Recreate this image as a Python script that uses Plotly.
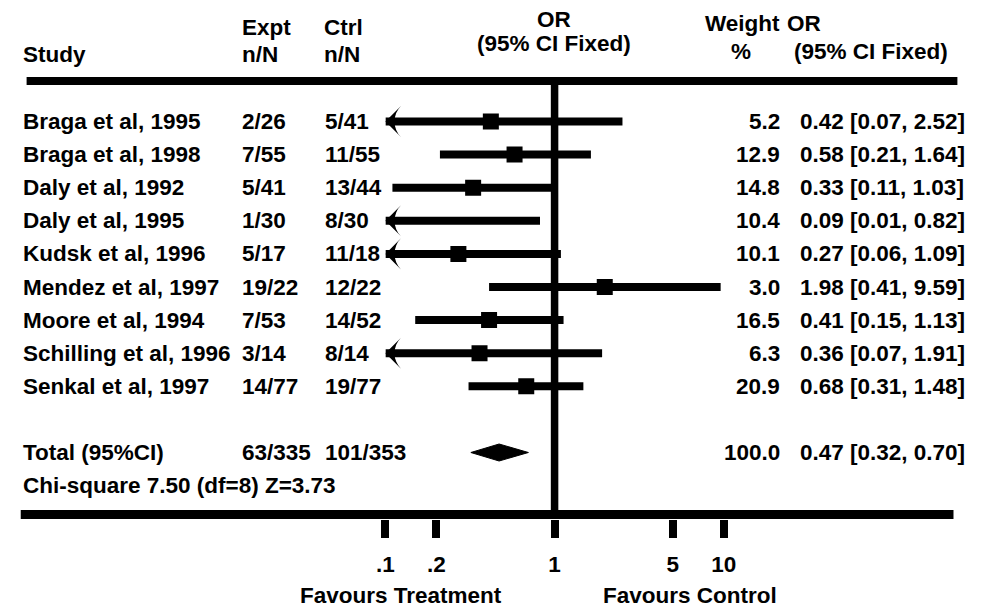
import plotly.graph_objects as go

# ---------------- data ----------------
studies = ["Braga et al, 1995", "Braga et al, 1998", "Daly et al, 1992", "Daly et al, 1995",
           "Kudsk et al, 1996", "Mendez et al, 1997", "Moore et al, 1994",
           "Schilling et al, 1996", "Senkal et al, 1997"]
expt_nN = ["2/26", "7/55", "5/41", "1/30", "5/17", "19/22", "7/53", "3/14", "14/77"]
ctrl_nN = ["5/41", "11/55", "13/44", "8/30", "11/18", "12/22", "14/52", "8/14", "19/77"]
weights = [5.2, 12.9, 14.8, 10.4, 10.1, 3.0, 16.5, 6.3, 20.9]
odds_ratio = [0.42, 0.58, 0.33, 0.09, 0.27, 1.98, 0.41, 0.36, 0.68]
ci_low = [0.07, 0.21, 0.11, 0.01, 0.06, 0.41, 0.15, 0.07, 0.31]
ci_high = [2.52, 1.64, 1.03, 0.82, 1.09, 9.59, 1.13, 1.91, 1.48]

total_label = "Total (95%CI)"
total_expt = "63/335"
total_ctrl = "101/353"
total_weight = 100.0
total_or = 0.47
total_low = 0.32
total_high = 0.70
heterogeneity = "Chi-square 7.50 (df=8) Z=3.73"

tick_vals = [0.1, 0.2, 1, 5, 10]
tick_text = [".1", ".2", "1", "5", "10"]
favours_left = "Favours Treatment"
favours_right = "Favours Control"

axis_min, axis_max = 0.1, 10

study_rows = list(range(len(studies)))
total_row = 10
het_row = 11

# ---------------- layout constants ----------------
W, H = 988, 607
FONT = "Liberation Sans, Arial, sans-serif"
FS = 22.5
BLACK = "#000000"
ROW0_PX, ROW_STEP = 121.5, 33.1
PLOT_BOTTOM_PX = 519


def px_x(p):
    return p / W


def px_y(p):
    return 1 - p / H


y_top = (0 - ROW0_PX) / ROW_STEP
y_bot = (PLOT_BOTTOM_PX - ROW0_PX) / ROW_STEP

fig = go.Figure()

# CI lines (clipped at axis minimum)
lx, ly = [], []
for r, lo, hi in zip(study_rows, ci_low, ci_high):
    lx += [max(lo, axis_min), min(hi, axis_max), None]
    ly += [r, r, None]
fig.add_trace(go.Scatter(x=lx, y=ly, mode="lines",
                         line=dict(color=BLACK, width=8), hoverinfo="skip"))

# arrows where CI extends beyond axis
ax_, ay_ = [], []
for r, lo in zip(study_rows, ci_low):
    if lo < axis_min:
        ax_.append(axis_min)
        ay_.append(r)
fig.add_trace(go.Scatter(x=ax_, y=ay_, mode="markers", cliponaxis=False,
                         marker=dict(symbol="arrow-wide", angle=-90, size=22,
                                     color=BLACK, line=dict(width=0)),
                         hoverinfo="skip"))

# point estimates
fig.add_trace(go.Scatter(x=odds_ratio, y=study_rows, mode="markers",
                         marker=dict(symbol="square", size=16, color=BLACK,
                                     line=dict(width=0))))

# pooled diamond
dh = 8.5 / ROW_STEP
fig.add_trace(go.Scatter(x=[total_low, total_or, total_high, total_or, total_low],
                         y=[total_row, total_row - dh, total_row, total_row + dh, total_row],
                         mode="lines", fill="toself", fillcolor=BLACK,
                         line=dict(color=BLACK, width=1), hoverinfo="skip"))

shapes = [
    # line of no effect
    dict(type="line", xref="x", yref="paper", x0=1, x1=1,
         y0=px_y(514), y1=px_y(81), line=dict(color=BLACK, width=7.5)),
    # top rule
    dict(type="line", xref="paper", yref="paper", x0=px_x(18), x1=px_x(970),
         y0=px_y(81), y1=px_y(81), line=dict(color=BLACK, width=8)),
    # bottom rule
    dict(type="line", xref="paper", yref="paper", x0=px_x(12), x1=px_x(966),
         y0=px_y(514.5), y1=px_y(514.5), line=dict(color=BLACK, width=9)),
]

annotations = []


def add_text(text, xp, y, yref="y", xanchor="left"):
    annotations.append(dict(text=text, x=px_x(xp), xref="paper", y=y, yref=yref,
                            xanchor=xanchor, yanchor="middle", showarrow=False,
                            borderpad=0,
                            font=dict(family=FONT, size=FS, color=BLACK, weight="bold")))


# headers
add_text("Study", 13, px_y(54), "paper")
add_text("Expt", 237, px_y(27), "paper")
add_text("n/N", 237, px_y(54), "paper")
add_text("Ctrl", 321, px_y(27), "paper")
add_text("n/N", 321, px_y(54), "paper")
add_text("OR", 557, px_y(19), "paper", "center")
add_text("(95% CI Fixed)", 557, px_y(43), "paper", "center")
add_text("Weight", 790, px_y(24), "paper", "right")
add_text("%", 749, px_y(51), "paper", "center")
add_text("OR", 795, px_y(24), "paper")
add_text("(95% CI Fixed)", 802, px_y(51), "paper")

# study rows
for r, s, e, c, w, o, lo, hi in zip(study_rows, studies, expt_nN, ctrl_nN, weights,
                                     odds_ratio, ci_low, ci_high):
    add_text(s, 13, r)
    add_text(e, 237, r)
    add_text(c, 322, r)
    add_text(f"{w:.1f}", 790, r, xanchor="right")
    add_text(f"{o:.2f} [{lo:.2f}, {hi:.2f}]", 808, r)

# totals
add_text(total_label, 13, total_row)
add_text(total_expt, 237, total_row)
add_text(total_ctrl, 322, total_row)
add_text(f"{total_weight:.1f}", 790, total_row, xanchor="right")
add_text(f"{total_or:.2f} [{total_low:.2f}, {total_high:.2f}]", 808, total_row)
add_text(heterogeneity, 13, het_row)

# favours labels
add_text(favours_left, 401, px_y(595), "paper", "center")
add_text(favours_right, 697, px_y(595), "paper", "center")

fig.update_layout(
    width=W, height=H,
    margin=dict(l=0, r=0, t=0, b=0, pad=0),
    paper_bgcolor="white", plot_bgcolor="white",
    showlegend=False,
    shapes=shapes,
    annotations=annotations,
    xaxis=dict(type="log", range=[-1, 1], domain=[px_x(385), px_x(731)],
               tickvals=tick_vals, ticktext=tick_text,
               ticks="outside", ticklen=18, tickwidth=8, tickcolor=BLACK,
               ticklabelstandoff=7,
               tickfont=dict(family=FONT, size=FS, color=BLACK, weight="bold"),
               showline=False, showgrid=False, zeroline=False, fixedrange=True),
    yaxis=dict(range=[y_bot, y_top], domain=[1 - PLOT_BOTTOM_PX / H, 1],
               visible=False, showgrid=False, zeroline=False, fixedrange=True),
)

fig.write_html("out.html")
